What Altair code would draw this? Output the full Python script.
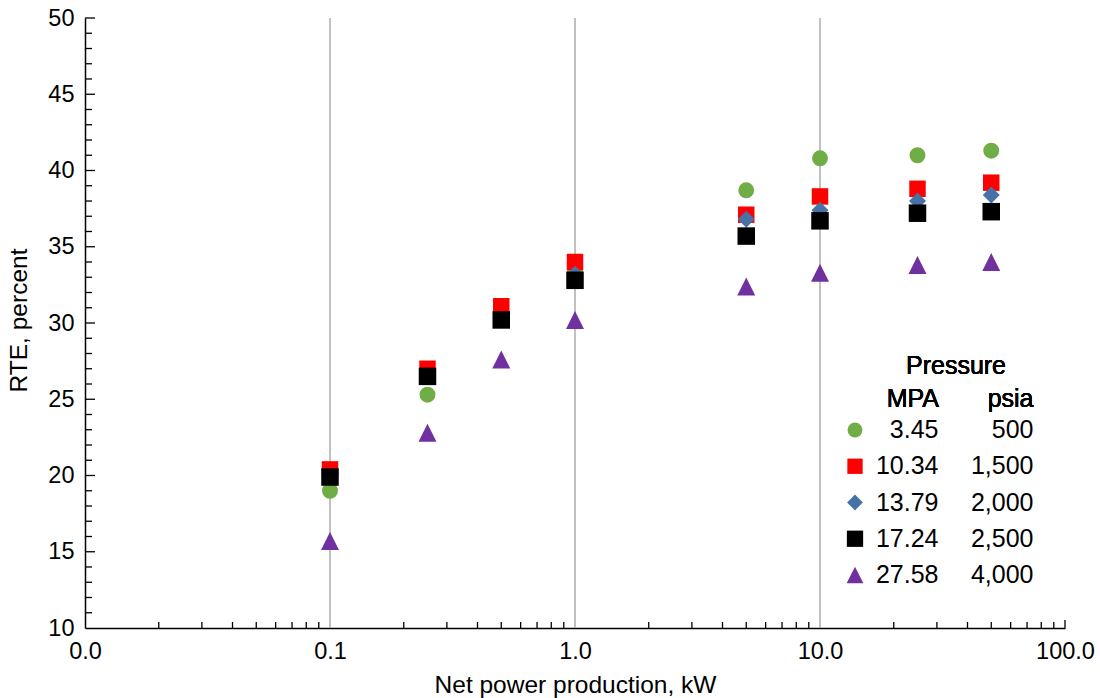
import altair as alt
import pandas as pd

# Net power production (kW) at which each case was evaluated
power_kw = [0.1, 0.25, 0.5, 1.0, 5, 10, 25, 50]

# Storage pressure cases
pressure_mpa = ["3.45", "10.34", "13.79", "17.24", "27.58"]
pressure_psia = ["500", "1,500", "2,000", "2,500", "4,000"]

# Round-trip efficiency (percent) per pressure case, aligned with power_kw
rte_345 = [19.0, 25.3, None, 33.4, 38.7, 40.8, 41.0, 41.3]
rte_1034 = [20.4, 27.0, 31.1, 34.0, 37.1, 38.3, 38.8, 39.2]
rte_1379 = [None, None, None, 33.2, 36.8, 37.4, 38.0, 38.4]
rte_1724 = [19.9, 26.5, 30.2, 32.8, 35.7, 36.7, 37.2, 37.3]
rte_2758 = [15.7, 22.8, 27.6, 30.2, 32.4, 33.3, 33.8, 34.0]

series_values = [rte_345, rte_1034, rte_1379, rte_1724, rte_2758]

# Axis layout
x_label_values = [0.01, 0.1, 1, 10, 100]
x_grid_values = [0.1, 1, 10]
x_minor_values = [m * d for d in (0.01, 0.1, 1, 10) for m in range(2, 10)]
y_label_values = list(range(10, 51, 5))
y_minor_values = [v for v in range(11, 50) if v % 5 != 0]
y_major_values = [15, 20, 25, 30, 35, 40, 45, 50]

FONT = "Liberation Sans"
W, H = 980, 610

rows = []
for mpa, vals in zip(pressure_mpa, series_values):
    for p, v in zip(power_kw, vals):
        if v is not None:
            rows.append({"power": p, "rte": v, "mpa": mpa})
points_df = pd.DataFrame(rows)

legend_df = pd.DataFrame({
    "mpa": pressure_mpa,
    "psia": pressure_psia,
    "row": list(range(len(pressure_mpa))),
})

x_scale = alt.Scale(type="log", domain=[0.01, 100], nice=False)
y_scale = alt.Scale(domain=[10, 50], nice=False, zero=False)

x_axis = alt.Axis(
    title="Net power production, kW",
    values=x_label_values,
    format=".1f",
    ticks=False,
    tickSize=0,
    grid=False,
    labelPadding=11,
    labelFontSize=23.5,
    labelFont=FONT,
    labelColor="black",
    labelFlush=False,
    domainColor="black",
    domainWidth=1.5,
    titleFont=FONT,
    titleFontSize=24.5,
    titleFontWeight="normal",
    titleColor="black",
    titleBaseline="alphabetic",
    titleY=64,
)

y_axis = alt.Axis(
    title="RTE, percent",
    values=y_label_values,
    ticks=False,
    tickSize=0,
    grid=False,
    labelPadding=11,
    labelFontSize=23.5,
    labelFont=FONT,
    labelColor="black",
    domainColor="black",
    domainWidth=1.5,
    titleFont=FONT,
    titleFontSize=24.5,
    titleFontWeight="normal",
    titleColor="black",
    titleBaseline="middle",
    titleX=-66,
    titleY=302,
)

colors = ["#70AD47", "#FF0000", "#4672A8", "#000000", "#7030A0"]
shapes = ["circle", "square", "diamond", "square", "M0,-1L1,1L-1,1Z"]
sizes = [254, 324, 361, 324, 361]

color_enc = alt.Color("mpa:N", scale=alt.Scale(domain=pressure_mpa, range=colors), legend=None)
shape_enc = alt.Shape("mpa:N", scale=alt.Scale(domain=pressure_mpa, range=shapes), legend=None)
size_enc = alt.Size("mpa:N", scale=alt.Scale(domain=pressure_mpa, range=sizes), legend=None)

grid = alt.Chart(pd.DataFrame({"power": x_grid_values})).mark_rule(
    color="#A0A0A0", strokeWidth=1.3
).encode(
    x=alt.X("power:Q", scale=x_scale, axis=x_axis),
    y=alt.value(0),
    y2=alt.value(H),
)

x_minor = alt.Chart(pd.DataFrame({"power": x_minor_values})).mark_rule(
    color="black", strokeWidth=1.3
).encode(
    x=alt.X("power:Q", scale=x_scale, axis=x_axis),
    y=alt.value(H),
    y2=alt.value(H - 6),
)

x_major = alt.Chart(pd.DataFrame({"power": [100]})).mark_rule(
    color="black", strokeWidth=1.3
).encode(
    x=alt.X("power:Q", scale=x_scale, axis=x_axis),
    y=alt.value(H),
    y2=alt.value(H - 8),
)

y_minor = alt.Chart(pd.DataFrame({"rte": y_minor_values})).mark_rule(
    color="black", strokeWidth=1.3
).encode(
    y=alt.Y("rte:Q", scale=y_scale, axis=y_axis),
    x=alt.value(0),
    x2=alt.value(7),
)

y_major = alt.Chart(pd.DataFrame({"rte": y_major_values})).mark_rule(
    color="black", strokeWidth=1.3
).encode(
    y=alt.Y("rte:Q", scale=y_scale, axis=y_axis),
    x=alt.value(0),
    x2=alt.value(10),
)

points = alt.Chart(points_df).mark_point(filled=True, opacity=1).encode(
    x=alt.X("power:Q", scale=x_scale, axis=x_axis),
    y=alt.Y("rte:Q", scale=y_scale, axis=y_axis),
    color=color_enc,
    shape=shape_enc,
    size=size_enc,
)

plot = alt.layer(grid, x_minor, x_major, y_minor, y_major, points)

# Legend block: symbols plus the two pressure columns
row_scale = alt.Scale(type="point", domain=list(range(len(pressure_mpa))), range=[412, 557], padding=0)

legend_symbols = alt.Chart(legend_df).mark_point(filled=True, opacity=1).encode(
    x=alt.value(770),
    y=alt.Y("row:O", scale=row_scale, axis=None),
    color=color_enc,
    shape=shape_enc,
    size=alt.Size("mpa:N", scale=alt.Scale(domain=pressure_mpa, range=[220, 280, 330, 280, 330]), legend=None),
)

legend_mpa = alt.Chart(legend_df).mark_text(
    align="right", baseline="middle", font=FONT, fontSize=25, color="black"
).encode(
    x=alt.value(853.5),
    y=alt.Y("row:O", scale=row_scale, axis=None),
    text="mpa:N",
)

legend_psia = alt.Chart(legend_df).mark_text(
    align="right", baseline="middle", font=FONT, fontSize=25, color="black"
).encode(
    x=alt.value(948.5),
    y=alt.Y("row:O", scale=row_scale, axis=None),
    text="psia:N",
)

legend_title = alt.Chart(legend_df).mark_text(
    text="Pressure", align="center", baseline="middle", font=FONT, fontSize=25, color="black"
).encode(x=alt.value(871), y=alt.value(348))

legend_head_mpa = alt.Chart(legend_df).mark_text(
    text="MPA", align="right", baseline="middle", font=FONT, fontSize=25, color="black"
).encode(x=alt.value(854), y=alt.value(381))

legend_head_psia = alt.Chart(legend_df).mark_text(
    text="psia", align="right", baseline="middle", font=FONT, fontSize=25, color="black"
).encode(x=alt.value(948.5), y=alt.value(381))

legend = alt.layer(
    legend_symbols, legend_mpa, legend_psia, legend_title, legend_head_mpa, legend_head_psia
)

chart = (
    alt.layer(plot, legend)
    .resolve_scale(y="independent", size="independent")
    .properties(
        width=W,
        height=H,
        autosize=alt.AutoSizeParams(type="none"),
        padding={"left": 85, "top": 18, "right": 35, "bottom": 70},
        background="white",
    )
    .configure_view(strokeWidth=0)
)

chart.save("out.html", embed_options={"renderer": "svg", "actions": False})
